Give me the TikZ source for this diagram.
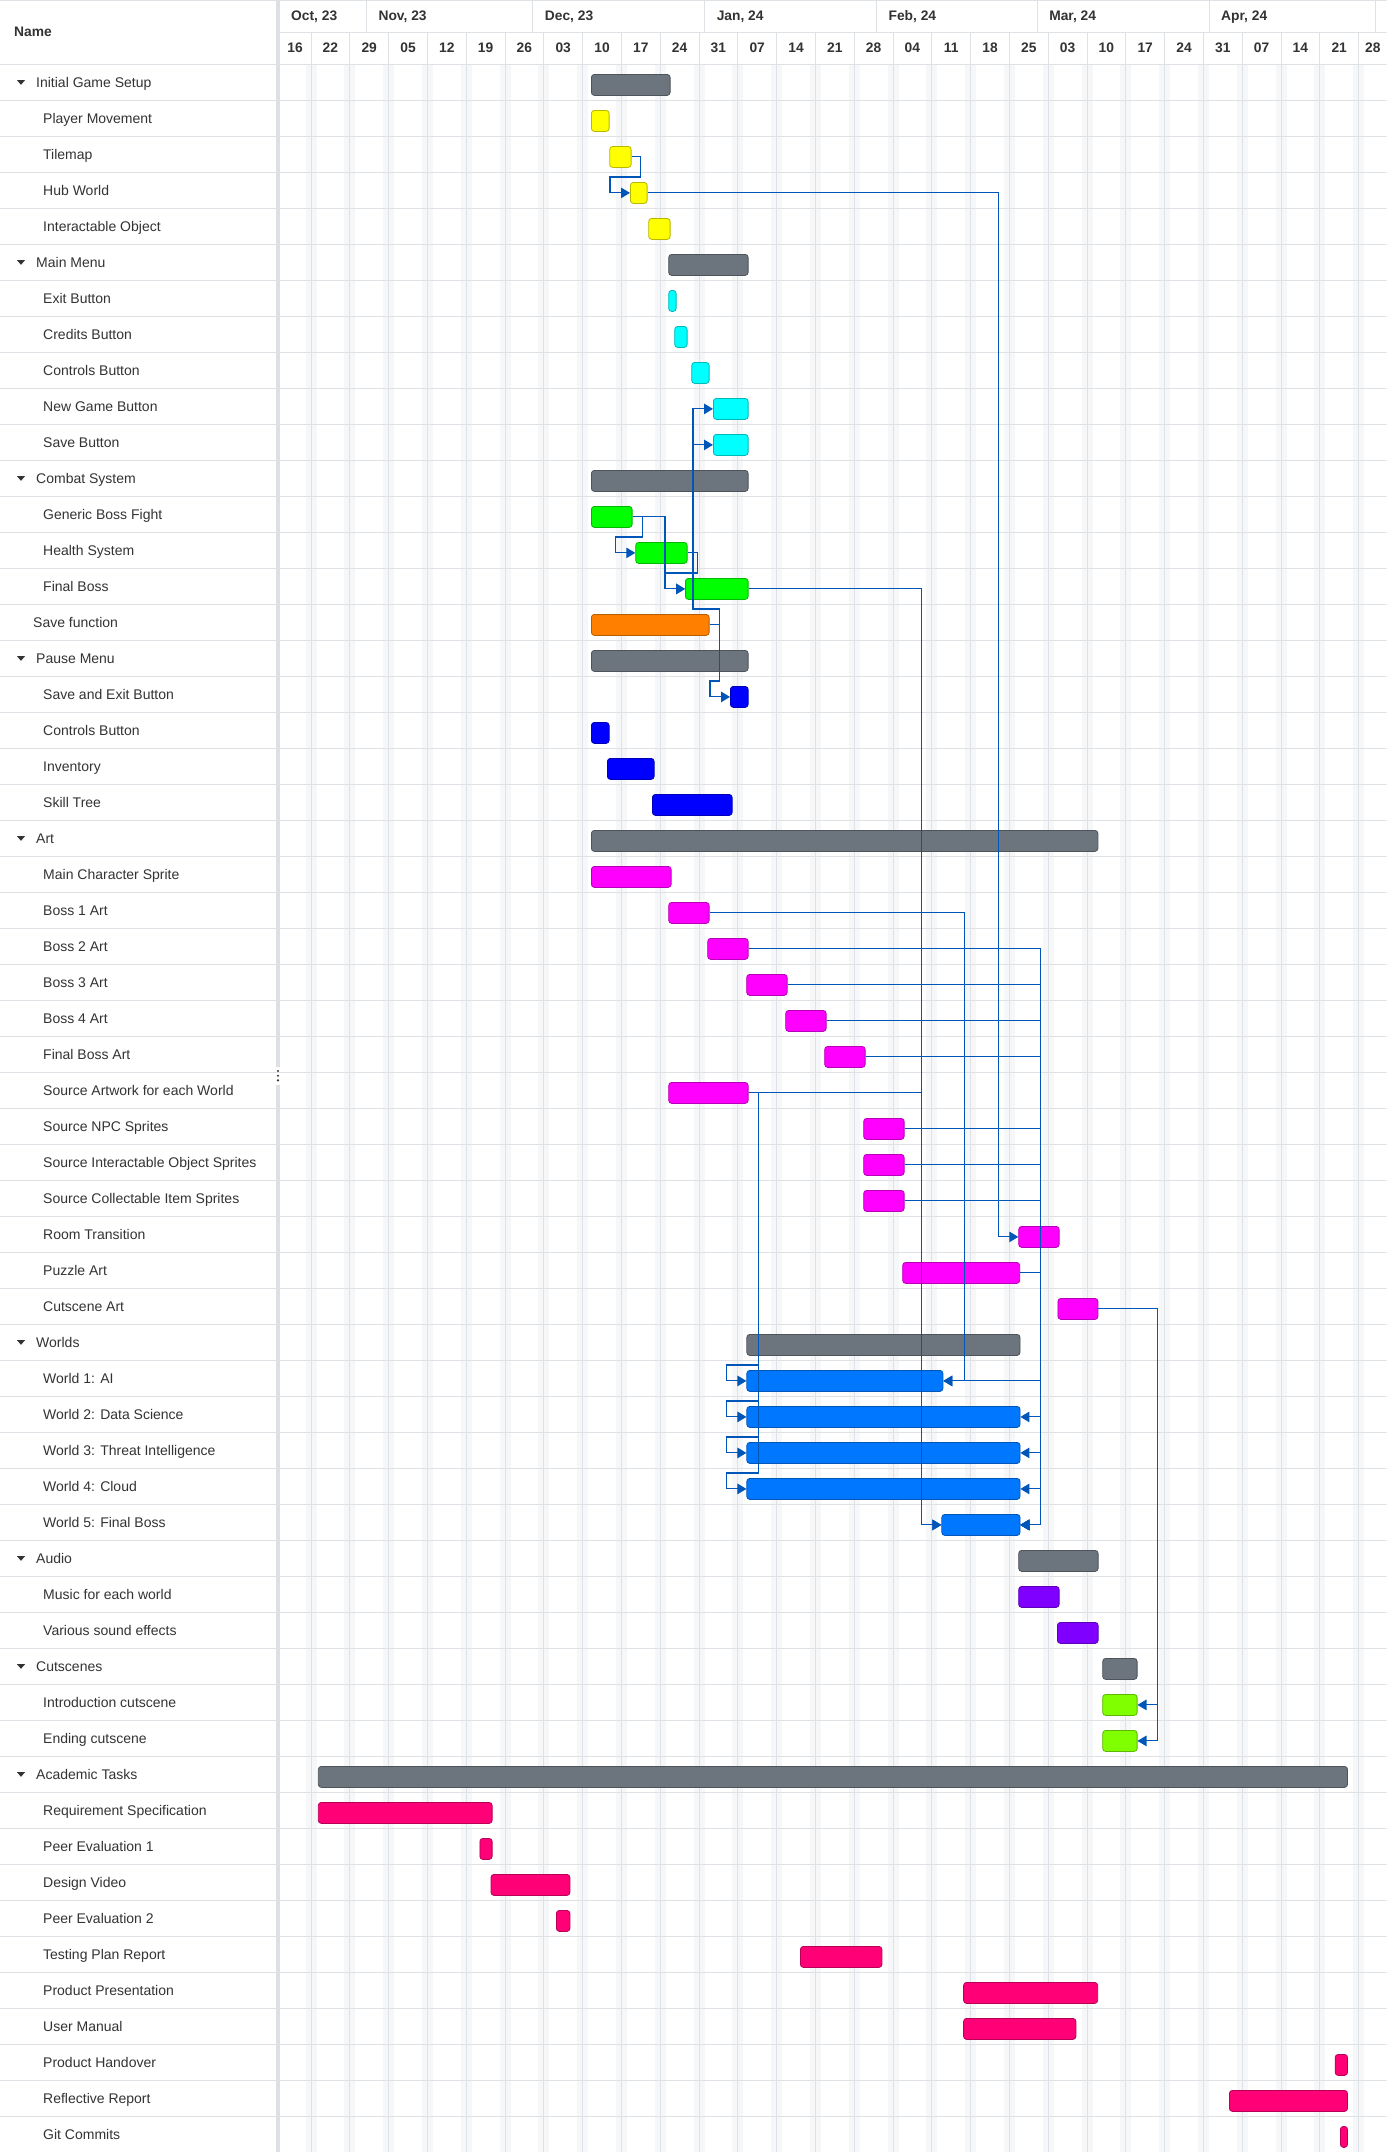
\documentclass[tikz,border=0pt]{standalone}
\usepackage{fontspec}
\setmainfont{Liberation Sans}
\usetikzlibrary{arrows.meta,calc}
\definecolor{lk}{RGB}{0,86,184}
\definecolor{gridc}{RGB}{222,225,230}
\definecolor{wkend}{RGB}{246,247,249}
\definecolor{divc}{RGB}{221,224,228}
\definecolor{txt}{RGB}{51,51,51}
\definecolor{cS}{RGB}{108,117,125}
\definecolor{cY}{RGB}{255,255,0}
\definecolor{cC}{RGB}{0,255,255}
\definecolor{cG}{RGB}{0,255,0}
\definecolor{cO}{RGB}{255,128,0}
\definecolor{cB}{RGB}{0,0,255}
\definecolor{cM}{RGB}{255,0,255}
\definecolor{cW}{RGB}{0,119,255}
\definecolor{cP}{RGB}{128,0,255}
\definecolor{cL}{RGB}{128,255,0}
\definecolor{cK}{RGB}{255,0,119}
\begin{document}
\begin{tikzpicture}[x=1pt,y=-1pt,
  dep/.style={draw=lk, line width=1.1pt, -{Triangle[length=9pt,width=10.5pt]}},
  gline/.style={draw=gridc, line width=1pt},
  bartask/.style={rounded corners=3pt, minimum height=21pt, inner sep=0pt, anchor=north west, line width=0.8pt},
  rowtext/.style={anchor=base west, inner sep=0pt, text=txt, font=\fontsize{14}{16}\selectfont},
  hdr/.style={inner sep=0pt, text=txt, font=\fontsize{13.8}{16}\selectfont\bfseries}]
\useasboundingbox (0,0) rectangle (1387,2152);
\fill[white] (0,0) rectangle (1387,2152);
% weekend shading
\foreach \k in {0,...,27} \fill[wkend] ({311+38.8*\k-5.5},64) rectangle ++(11,2088);
% vertical week lines
\foreach \k in {0,...,27} \draw[gline] ({311+38.8*\k},32) -- ++(0,2120);
% month separators
\foreach \x in {366.4,532.7,704.6,876.4,1037.1,1209,1375.3} \draw[gline] (\x,0) -- (\x,32);
% horizontal lines
\draw[gline] (0,0.5) -- (1387,0.5);
\draw[gline] (279,32) -- (1387,32);
\foreach \k in {0,...,58} \draw[gline] (0,{64+36*\k}) -- (1387,{64+36*\k});
% divider
\fill[divc] (276,0) rectangle (280,1066.7);
\fill[divc] (276,1085) rectangle (280,2152);
\foreach \y [count=\i] in {1071,1075.7,1080.3} \fill[txt] (278,\y) circle (1.2) coordinate (hd\i);
% header
\node[hdr, anchor=base west] (hname) at (14,36.8) {Name};
\foreach \x/\m [count=\i] in {291/{Oct, 23},378.4/{Nov, 23},544.7/{Dec, 23},716.6/{Jan, 24},888.4/{Feb, 24},1049.1/{Mar, 24},1221/{Apr, 24}}
  \node[hdr, anchor=base west] (m\i) at (\x,20.8) {\m};
\node[hdr, anchor=base] (wA) at (295,52.8) {16};
\foreach \k/\lab in {0/22,1/29,2/05,3/12,4/19,5/26,6/03,7/10,8/17,9/24,10/31,11/07,12/14,13/21,14/28,15/04,16/11,17/18,18/25,19/03,20/10,21/17,22/24,23/31,24/07,25/14,26/21}
  \node[hdr, anchor=base] (w\k) at ({311+38.8*\k+19.4},52.8) {\lab};
\node[hdr, anchor=base] (wB) at (1372.8,52.8) {28};
% row labels
\foreach \k/\tx/\txt in {1/36/Initial Game Setup,2/43/Player Movement,3/43/Tilemap,4/43/Hub World,5/43/Interactable Object,
 6/36/Main Menu,7/43/Exit Button,8/43/Credits Button,9/43/Controls Button,10/43/New Game Button,11/43/Save Button,
 12/36/Combat System,13/43/Generic Boss Fight,14/43/Health System,15/43/Final Boss,16/33/Save function,
 17/36/Pause Menu,18/43/Save and Exit Button,19/43/Controls Button,20/43/Inventory,21/43/Skill Tree,
 22/36/Art,23/43/Main Character Sprite,24/43/Boss 1 Art,25/43/Boss 2 Art,26/43/Boss 3 Art,27/43/Boss 4 Art,28/43/Final Boss Art,
 29/43/Source Artwork for each World,30/43/Source NPC Sprites,31/43/Source Interactable Object Sprites,32/43/Source Collectable Item Sprites,
 33/43/Room Transition,34/43/Puzzle Art,35/43/Cutscene Art,36/36/Worlds,37/43/World 1: AI,38/43/World 2: Data Science,
 39/43/World 3: Threat Intelligence,40/43/World 4: Cloud,41/43/World 5: Final Boss,42/36/Audio,43/43/Music for each world,
 44/43/Various sound effects,45/36/Cutscenes,46/43/Introduction cutscene,47/43/Ending cutscene,48/36/Academic Tasks,
 49/43/Requirement Specification,50/43/Peer Evaluation 1,51/43/Design Video,52/43/Peer Evaluation 2,53/43/Testing Plan Report,
 54/43/Product Presentation,55/43/User Manual,56/43/Product Handover,57/43/Reflective Report,58/43/Git Commits}
  \node[rowtext] (t\k) at (\tx,{51+36*\k}) {\txt};
\foreach \k in {1,6,12,17,22,36,42,45,48}
  \fill[txt] (17,{46.5+36*\k-2.3}) -- (25,{46.5+36*\k-2.3}) -- (21,{46.5+36*\k+2.3}) -- cycle;
% bars
\foreach \k/\xa/\xb/\fc in {1/591/669.7/cS,2/591/608.7/cY,3/609.3/630.7/cY,4/630/646.7/cY,5/648.3/669.7/cY,
 6/668.3/747.7/cS,7/668.3/675.7/cC,8/674.3/686.7/cC,9/691.3/708.7/cC,10/713/747.7/cC,11/713/747.7/cC,
 12/591/747.7/cS,13/591/631.7/cG,14/635.3/686.7/cG,15/685/747.7/cG,16/591/708.7/cO,
 17/591/747.7/cS,18/730/747.7/cB,19/591/608.7/cB,20/607/653.7/cB,21/652/731.7/cB,
 22/591/1097.5/cS,23/591/670.7/cM,24/668.3/708.7/cM,25/707.3/747.7/cM,26/746.3/786.7/cM,27/785.3/825.7/cM,28/824.3/864.7/cM,
 29/668.3/747.7/cM,30/863.3/903.7/cM,31/863.3/903.7/cM,32/863.3/903.7/cM,33/1018.3/1058.7/cM,34/902.3/1019.3/cM,35/1057.5/1097.5/cM,
 36/746.4/1019.6/cS,37/746.4/942.5/cW,38/746.4/1019.6/cW,39/746.4/1019.6/cW,40/746.4/1019.6/cW,41/941.4/1019.6/cW,
 42/1018.3/1097.7/cS,43/1018.3/1058.7/cP,44/1057/1097.7/cP,45/1102.3/1136.7/cS,46/1102.3/1136.7/cL,47/1102.3/1136.7/cL,
 48/317.9/1347.1/cS,49/317.9/491.7/cK,50/479.5/491.7/cK,51/490.6/569.5/cK,52/556/569.5/cK,53/800/881.5/cK,
 54/963.2/1097.3/cK,55/963.2/1075.5/cK,56/1334.8/1347.1/cK,57/1229/1347.1/cK,58/1340/1347.1/cK}
  \node[bartask, fill=\fc, draw=\fc!72!black, minimum width={(\xb-\xa)*1pt}] (r\k) at (\xa,{38+36*\k}) {};
% connectors
\draw[dep] (r3.east) -- ++(9.3,0) |- (610,177) |- (r4.west);
\draw[dep] (r4.east) -| ($(r33.west)+(-20,0)$) -- (r33.west);
\draw[dep] (r16.east) -- ++(9.6,0) |- (693,609) |- (r10.west);
\draw[dep] (r16.east) -- ++(9.6,0) |- (693,609) |- (r11.west);
\draw[dep] (r16.east) -- ++(9.6,0) |- (710,681) |- (r18.west);
\draw[dep] (r13.east) -- ++(10,0) |- (615.3,537) |- (r14.west);
\draw[dep] (r13.east) -| ($(r15.west)+(-20,0)$) -- (r15.west);
\draw[dep] (r14.east) -- ++(9.6,0) |- (665,573) |- (r15.west);
\draw[dep] (r15.east) -| ($(r41.west)+(-20,0)$) -- (r41.west);
\draw[dep] (r29.east) -| ($(r41.west)+(-20,0)$) -- (r41.west);
\foreach \k in {37,38,39,40}
  \draw[dep] (r29.east) -- ++(10,0) |- (726.4,{33+36*\k}) |- (r\k.west);
\draw[dep] (r24.east) -| ($(r37.east)+(21,0)$) -- (r37.east);
\coordinate (bus) at (1040.3,0);
\foreach \s in {25,26,27,28,30,31,32}
  \draw[dep] (r\s.east) -| (bus |- r41.east) -- (r41.east);
\foreach \k in {37,38,39,40}
  \draw[dep] (r34.east) -| (bus |- r\k.east) -- (r\k.east);
\draw[dep] (r35.east) -| ($(r46.east)+(20,0)$) -- (r46.east);
\draw[dep] (r35.east) -| ($(r47.east)+(20,0)$) -- (r47.east);
\end{tikzpicture}
\end{document}
